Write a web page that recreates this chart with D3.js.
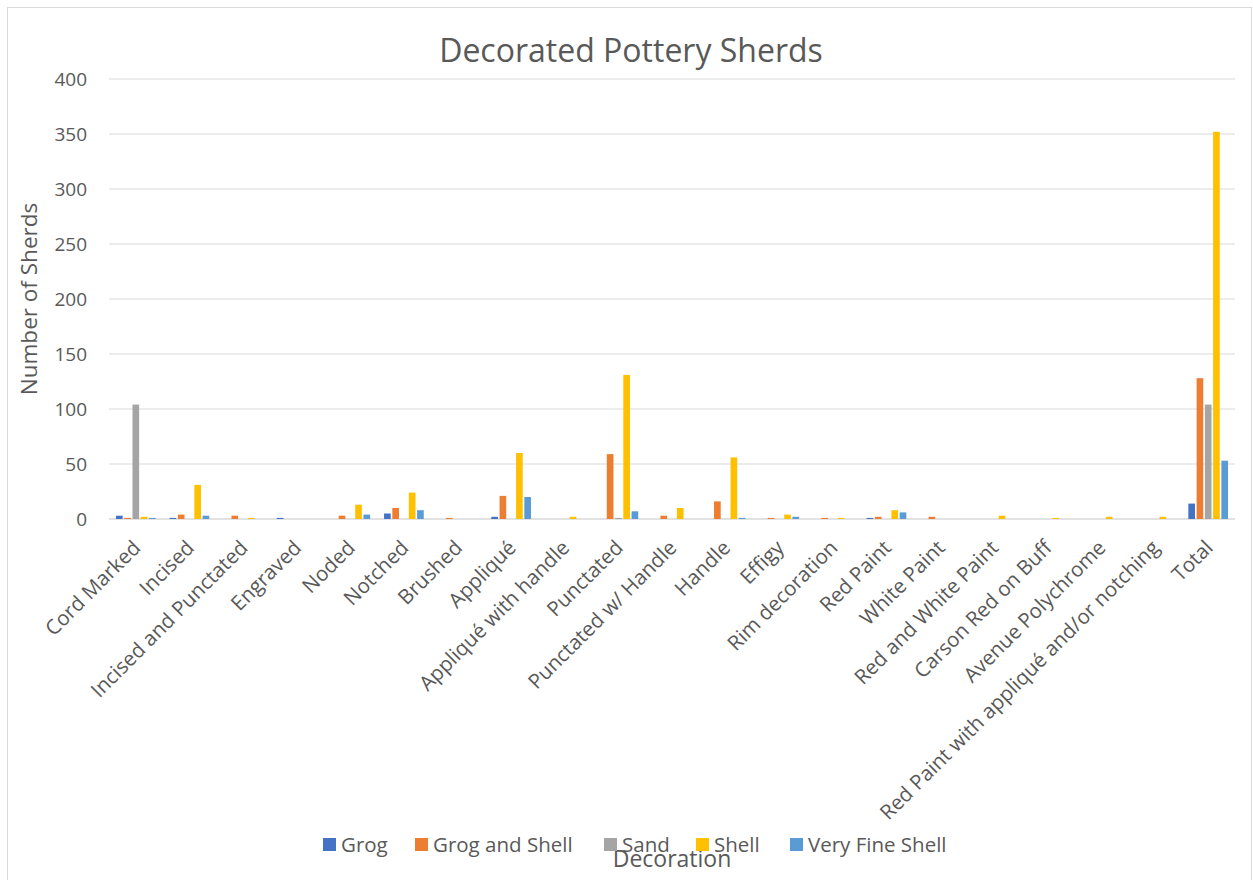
<!DOCTYPE html>
<html>
<head>
<meta charset="utf-8">
<script src="https://cdn.jsdelivr.net/npm/d3@7"></script>
<style>
  body { margin: 0; background: #fff; }
  text { font-family: "Open Sans", sans-serif; fill: #595959; }
</style>
</head>
<body>
<div class="board"></div>
<script>
var categories = ["Cord Marked", "Incised", "Incised and Punctated", "Engraved", "Noded", "Notched",
    "Brushed", "Appliqué", "Appliqué with handle", "Punctated", "Punctated w/ Handle", "Handle",
    "Effigy", "Rim decoration", "Red Paint", "White Paint", "Red and White Paint",
    "Carson Red on Buff", "Avenue Polychrome", "Red Paint with appliqué and/or notching", "Total"]

var seriesNames = ["Grog", "Grog and Shell", "Sand", "Shell", "Very Fine Shell"]
var seriesColors = ["#4472C4", "#ED7D31", "#A5A5A5", "#FFC000", "#5B9BD5"]

var grog          = [3, 1, 0, 1, 0, 5, 0, 2, 0, 0, 0, 0, 0, 0, 1, 0, 0, 0, 0, 0, 14]
var grogAndShell  = [1, 4, 3, 0, 3, 10, 1, 21, 0, 59, 3, 16, 1, 1, 2, 2, 0, 0, 0, 0, 128]
var sand          = [104, 0, 0, 0, 0, 0, 0, 0, 0, 1, 0, 0, 0, 0, 0, 0, 0, 0, 0, 0, 104]
var shell         = [2, 31, 1, 0, 13, 24, 0, 60, 2, 131, 10, 56, 4, 1, 8, 0, 3, 1, 2, 2, 352]
var veryFineShell = [1, 3, 0, 0, 4, 8, 0, 20, 0, 7, 0, 1, 2, 0, 6, 0, 0, 0, 0, 0, 53]

var yTicks = [0, 50, 100, 150, 200, 250, 300, 350, 400]

var seriesValues = [grog, grogAndShell, sand, shell, veryFineShell]

var W = 1253, H = 880
var margin = { top: 79, right: 18, bottom: 361, left: 109 }
var width = W - margin.left - margin.right,
    height = H - margin.top - margin.bottom

var svg = d3.select(".board")
    .append("svg")
    .attr("width", W)
    .attr("height", H)

// chart frame
svg.append("rect")
    .attr("x", 7.5).attr("y", 7.5)
    .attr("width", W - 9).attr("height", H - 6)
    .attr("fill", "none")
    .attr("stroke", "#d9d9d9")

var g = svg.append("g")
    .attr("transform", `translate(${margin.left}, ${margin.top})`)

let x0 = d3.scaleBand()
    .domain(categories)
    .range([0, width])
    .paddingInner(0.23)
    .paddingOuter(0.115)

let x1 = d3.scaleBand()
    .domain(seriesNames)
    .range([0, x0.bandwidth()])

let y = d3.scaleLinear()
    .domain([0, 400])
    .range([height, 0])

// gridlines
g.selectAll(".grid")
    .data(yTicks)
    .enter()
    .append("line")
    .attr("x1", 0)
    .attr("x2", width)
    .attr("y1", d => y(d))
    .attr("y2", d => y(d))
    .attr("stroke", "#d9d9d9")
    .attr("stroke-width", d => d == 0 ? 1.5 : 1)

// y tick labels
let yAxis = g.append("g")
    .call(d3.axisLeft(y).tickValues(yTicks).tickSize(0).tickPadding(22))
yAxis.select(".domain").remove()
yAxis.selectAll("text")
    .style("font-size", "19px")
    .attr("fill", "#595959")

// bars
let rows = []
categories.forEach((c, i) => {
    seriesNames.forEach((s, j) => {
        rows.push({ cat: c, series: s, value: seriesValues[j][i], color: seriesColors[j] })
    })
})

g.selectAll(".bar")
    .data(rows)
    .enter()
    .append("rect")
    .attr("x", d => x0(d.cat) + x1(d.series) + 0.8)
    .attr("width", x1.bandwidth() - 1.6)
    .attr("y", d => y(d.value))
    .attr("height", d => y(0) - y(d.value))
    .attr("fill", d => d.color)

// x labels, rotated
let xAxis = g.append("g")
    .attr("transform", `translate(0, ${height})`)
    .call(d3.axisBottom(x0).tickSize(0).tickPadding(0))
xAxis.select(".domain").remove()
xAxis.selectAll("text")
    .style("font-size", "20.5px")
    .attr("fill", "#595959")
    .attr("text-anchor", "end")
    .attr("dy", "0")
    .attr("transform", "translate(6, 30) rotate(-45)")

// title
svg.append("text")
    .attr("x", 631)
    .attr("y", 62)
    .attr("text-anchor", "middle")
    .style("font-size", "32px")
    .text("Decorated Pottery Sherds")

// axis titles
svg.append("text")
    .attr("transform", "translate(37, 299) rotate(-90)")
    .attr("text-anchor", "middle")
    .style("font-size", "22.5px")
    .text("Number of Sherds")

svg.append("text")
    .attr("x", 672)
    .attr("y", 867)
    .attr("text-anchor", "middle")
    .style("font-size", "23px")
    .text("Decoration")

// legend
var legendX = [323, 415, 604, 696, 790]
let legend = svg.selectAll(".legend")
    .data(seriesNames)
    .enter()
    .append("g")
    .attr("transform", (d, i) => `translate(${legendX[i]}, 838)`)

legend.append("rect")
    .attr("width", 13)
    .attr("height", 13)
    .attr("fill", (d, i) => seriesColors[i])

legend.append("text")
    .attr("x", 18)
    .attr("y", 14)
    .style("font-size", "20.5px")
    .text(d => d)
</script>
</body>
</html>
